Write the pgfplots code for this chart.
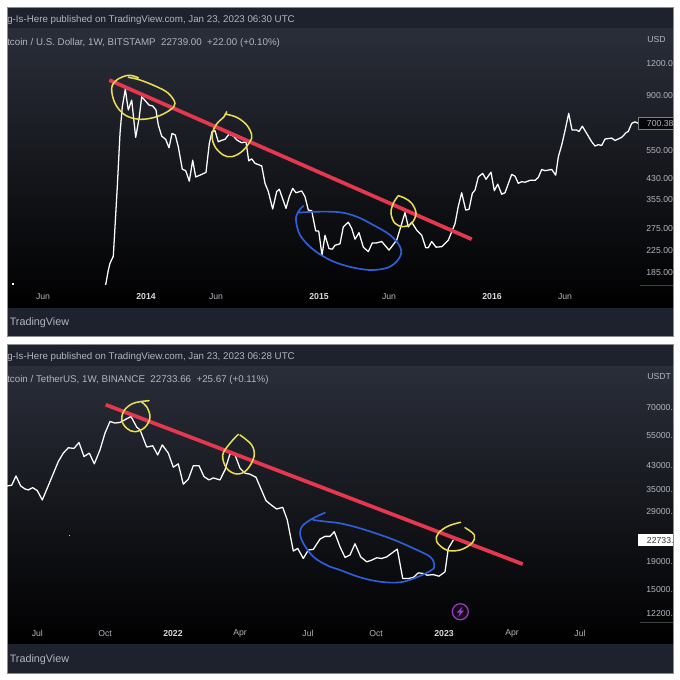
\documentclass[border=0pt]{standalone}
\usepackage{fontspec}
\setmainfont{Liberation Sans}
\usepackage{pgfplots}
\pgfplotsset{compat=1.18}
\definecolor{strip}{HTML}{1E222D}
\definecolor{charttop}{HTML}{2A2E39}
\definecolor{txt}{HTML}{B2B5BE}
\definecolor{boldtxt}{HTML}{D8DAE0}
\definecolor{redline}{HTML}{E5384F}
\definecolor{yel}{HTML}{E9DD55}
\definecolor{blu}{HTML}{2F5FD8}
\definecolor{purp}{HTML}{9C3FC0}
\newcommand{\hdr}{\fontsize{7.32pt}{8.5pt}\selectfont}
\newcommand{\tickf}{\fontsize{6.5pt}{7.5pt}\selectfont}
\pgfplotstableread{
x y
105.7 165
108.3 188
110.0 200
113.3 213
115.0 277
117.3 397
120.0 639
122.3 812
125.3 948
128.3 788
131.7 861
135.7 617
139.3 742
141.7 887
146.0 850
149.0 824
152.7 817
156.0 788
158.3 689
161.7 624
165.7 606
169.0 562
172.0 639
175.3 630
178.3 567
182.3 464
185.7 458
189.3 417
192.7 503
195.7 433
200.0 440
206.0 451
209.3 584
212.0 649
215.0 655
218.3 593
221.7 601
225.0 606
229.0 635
233.3 624
237.3 601
241.7 588
246.0 593
248.7 500
251.7 509
255.0 489
261.7 478
265.0 409
268.3 380
272.7 325
276.7 380
279.3 388
286.0 327
289.3 363
292.7 391
296.0 376
301.7 382
305.0 363
308.3 322
311.7 320
315.7 267
318.7 267
322.0 215
325.0 257
329.0 228
332.3 227
335.0 235
340.0 238
343.3 277
348.3 289
351.7 273
355.0 248
359.0 263
363.3 231
368.3 222
372.3 240
376.7 240
381.7 243
389.0 225
396.7 246
400.7 277
405.0 315
408.3 277
411.7 289
416.7 269
421.7 257
425.7 230
428.3 230
431.7 243
436.0 231
441.7 232
448.3 246
455.0 285
458.3 333
461.7 376
465.7 322
469.0 324
472.3 374
475.0 385
478.3 433
482.7 447
486.0 424
491.0 452
494.3 383
497.7 406
501.7 371
505.0 376
511.7 443
515.0 436
518.3 409
521.7 415
525.0 413
530.0 420
535.0 420
538.3 431
541.7 463
545.0 458
551.7 463
555.7 440
558.3 518
561.7 576
565.0 655
568.7 765
572.0 659
576.7 659
579.0 650
582.3 682
586.7 639
591.7 593
595.0 571
598.3 578
601.7 574
605.0 608
611.7 613
615.0 600
621.7 617
626.0 643
628.3 651
631.7 699
635.0 709
638.3 699
}\topdata
\pgfplotstableread{
x y
7.0 35840
11.7 36070
16.0 39020
20.7 35840
25.0 34940
28.3 34650
32.7 35340
37.3 34450
42.3 31830
50.0 37200
58.3 44080
63.3 47350
68.3 49550
74.0 49290
79.0 51800
84.0 46000
89.3 47350
94.3 43240
100.0 48690
105.0 56100
110.0 61950
115.0 61100
120.0 61450
131.0 64600
136.7 59050
140.0 57720
146.7 49850
152.7 50400
157.7 46640
162.3 50770
168.3 47350
173.3 42040
178.3 43240
183.3 36380
188.3 37950
193.3 42560
199.0 42560
204.0 38800
209.0 37730
213.3 38370
220.0 37730
225.0 41080
230.0 47080
235.0 46640
240.0 41670
245.0 39950
250.0 39610
256.0 38570
260.7 35160
266.0 31640
271.7 30400
276.7 29480
282.7 29900
287.3 26850
293.3 20640
297.7 21100
303.3 19380
308.3 20810
313.3 20930
320.0 22840
325.0 23370
330.0 23370
334.3 24310
340.0 21400
345.0 19550
350.0 19950
355.0 21950
360.7 19640
366.7 18840
371.7 19110
376.7 19490
381.7 19380
386.7 19640
397.3 20980
402.7 16350
408.3 16350
413.3 16490
418.3 17150
423.3 17060
427.3 16810
433.3 16900
439.0 16670
445.0 17300
448.3 21100
453.3 22650
}\bottomdata
\begin{document}
\begin{tikzpicture}
\useasboundingbox (0pt,0pt) rectangle (510pt,-510pt);
\begin{scope}[x=0.75pt,y=-0.75pt]
\fill[white] (0,0) rectangle (680,680);
% top panel
\fill[strip] (7,7) rectangle (673,336);
\shade[top color=charttop,bottom color=black] (7,29) rectangle (673,307);
\draw[black!45,line width=.5pt] (7,7) rectangle (673,336);
\node[anchor=west,inner sep=0pt,text=txt,font=\hdr] at (7,20.3) {g-Is-Here published on TradingView.com, Jan 23, 2023 06:30 UTC};
\node[anchor=west,inner sep=0pt,text=txt,font=\hdr] at (7,43.3) {tcoin / U.S. Dollar, 1W, BITSTAMP\ \ 22739.00\ \ +22.00 (+0.10\%)};
\node[anchor=west,inner sep=0pt,text=txt,font=\tickf] at (647,40) {USD};
\node[anchor=west,inner sep=0pt,text=txt,font=\fontsize{8.1pt}{9pt}\selectfont] at (9.5,322.5) {TradingView};
\draw[black!75,line width=.4pt] (640,285) -- (673,285);
% bottom panel
\fill[strip] (7,344) rectangle (673,673);
\shade[top color=charttop,bottom color=black] (7,366) rectangle (673,643);
\draw[black!45,line width=.5pt] (7,344) rectangle (673,673);
\node[anchor=west,inner sep=0pt,text=txt,font=\hdr] at (7,357) {g-Is-Here published on TradingView.com, Jan 23, 2023 06:28 UTC};
\node[anchor=west,inner sep=0pt,text=txt,font=\hdr] at (7,380) {tcoin / TetherUS, 1W, BINANCE\ \ 22733.66\ \ +25.67 (+0.11\%)};
\node[anchor=west,inner sep=0pt,text=txt,font=\tickf] at (647,377) {USDT};
\node[anchor=west,inner sep=0pt,text=txt,font=\fontsize{8.1pt}{9pt}\selectfont] at (9.5,659.5) {TradingView};
\draw[black!75,line width=.4pt] (640,622.3) -- (673,622.3);
\end{scope}

\begin{axis}[scale only axis, width=474.75pt, xmin=7, xmax=640, ymode=log,
  axis line style={draw=none}, major tick style={draw=none},
  ytick pos=right, yticklabel pos=right, xtick pos=bottom,
  yticklabel style={font=\tickf, text=txt, anchor=west, xshift=4.6pt, yshift=-0.4pt, inner sep=0pt},
  xticklabel style={font=\tickf, text=txt, anchor=center, inner sep=0pt, yshift=-8.9pt},
  at={(5.25pt,-213.75pt)}, anchor=south west, height=192pt,
  ymin=164.7, ymax=1627,
  ytick={185,225,275,355,430,550,900,1200},
  yticklabels={185.00,225.00,275.00,355.00,430.00,550.00,900.00,1200.0},
  xtick={43,146,216,319,389,492,565},
  xticklabels={Jun,\textcolor{boldtxt}{\textbf{2014}},Jun,\textcolor{boldtxt}{\textbf{2015}},Jun,\textcolor{boldtxt}{\textbf{2016}},Jun}]
\addplot[white,line width=.95pt,line join=round] table[x=x,y=y] {\topdata};
\addplot[redline,line width=2.8pt] coordinates {(109.3,1030) (471.7,248)};
\end{axis}

\begin{axis}[scale only axis, width=474.75pt, xmin=7, xmax=640, ymode=log,
  axis line style={draw=none}, major tick style={draw=none},
  ytick pos=right, yticklabel pos=right, xtick pos=bottom,
  yticklabel style={font=\tickf, text=txt, anchor=west, xshift=4.6pt, yshift=-0.4pt, inner sep=0pt},
  xticklabel style={font=\tickf, text=txt, anchor=center, inner sep=0pt, yshift=-8.4pt},
  at={(5.25pt,-467pt)}, anchor=south west, height=192.75pt,
  ymin=11240, ymax=99450,
  ytick={12200,15000,19000,29000,35000,43000,55000,70000},
  yticklabels={12200.,15000.,19000.,29000.,35000.,43000.,55000.,70000.},
  xtick={37.3,105,173,240,308,376,444,512,580},
  xticklabels={Jul,Oct,\textcolor{boldtxt}{\textbf{2022}},Apr,Jul,Oct,\textcolor{boldtxt}{\textbf{2023}},Apr,Jul}]
\addplot[white,line width=.95pt,line join=round] table[x=x,y=y] {\bottomdata};
\addplot[redline,line width=2.8pt] coordinates {(105.7,71400) (522.7,18470)};
\end{axis}

\begin{scope}[x=0.75pt,y=-0.75pt]
% price tags
\draw[black!50,fill=black!85!charttop,line width=.5pt] (638.5,117.5) rectangle (673,129);
\node[anchor=west,inner sep=0pt,text=txt,font=\tickf] at (646.7,123.5) {700.38};
\fill[white] (638,534) rectangle (673,546);
\node[anchor=west,inner sep=0pt,text=black!80,font=\tickf] at (646.7,540.2) {22733.};
% hand-drawn annotations
\begin{scope}[line width=1.15pt,yel,line cap=round]
\draw plot[smooth,tension=.6] coordinates {(138.3,77.7) (128.3,75.3) (116.7,80) (111.7,88.3) (115,103.3) (125,115) (140,119.3) (156.7,116.7) (170,110) (175,103.3) (168.3,93.3) (156.7,86.7) (140,80) (128.3,77.3)};
\draw plot[smooth,tension=.6] coordinates {(226.7,111.7) (224,116.7) (216.7,124) (212,135) (215,146.7) (223.3,155) (231.7,156.7) (241.7,151.7) (250,141.7) (251.7,135) (246.7,125) (236.7,117.3) (225,114)};
\draw plot[smooth,tension=.6] coordinates {(398.3,195.7) (393.3,203.3) (391,213.3) (395,223.3) (403.3,226.7) (411.7,223.3) (416,213.3) (411.7,203.3) (405,198.3) (398.3,195.7)};
\draw plot[smooth,tension=.6] coordinates {(149,400.7) (140,401.7) (131.7,404) (124,410.7) (121.7,420) (126.7,428.3) (135,431.7) (145,427.3) (150,417.3) (146.7,406.7) (141.7,402.3)};
\draw plot[smooth,tension=.6] coordinates {(238.3,434.3) (230,443.3) (222.7,455) (226.7,468.3) (236.7,474) (246.7,470) (254,456.7) (251.7,445) (240,435)};
\draw plot[smooth,tension=.6] coordinates {(460.7,522.3) (448.3,526) (438.3,533.3) (436.7,541.7) (446.7,550) (460,550) (471.7,543.3) (474.3,535) (465,527.7)};
\end{scope}
\begin{scope}[line width=1.25pt,blu,line cap=round]
\draw plot[smooth,tension=.6] coordinates {(303.3,206) (298.3,211.7) (296,220) (300,235) (311.7,248.3) (326.7,258.3) (340,264) (356.7,268.3) (373.3,270) (390,266.7) (400,256.7) (400,246.7) (390,235) (373.3,225) (356.7,216.7) (340,212.3) (316.7,211.7) (298.3,212.7)};
\draw plot[smooth,tension=.6] coordinates {(325,512.7) (310,520) (301,528.3) (301.7,540) (313.3,556.7) (330,566.7) (340,570) (360,577.3) (380,581.7) (400,582.3) (416.7,577.3) (431.7,570) (434.3,565) (430,556.7) (413.3,548.3) (390,538.3) (360,528.3) (340,523.3) (326.7,521.7) (313.3,520)};
\end{scope}
% lightning badge
\draw[purp,line width=.9pt,fill=black!85!purp] (460.3,611.7) circle (8);
\fill[purp] (462.5,606.5) -- (456.8,612.7) -- (459.8,612.7) -- (458.3,617) -- (464,610.5) -- (460.9,610.5) -- cycle;
% stray specks
\fill[white] (12.3,283) rectangle (14,285);
\fill[yel] (68.5,534.5) rectangle (69.5,535.5);
\end{scope}
\end{tikzpicture}
\end{document}
